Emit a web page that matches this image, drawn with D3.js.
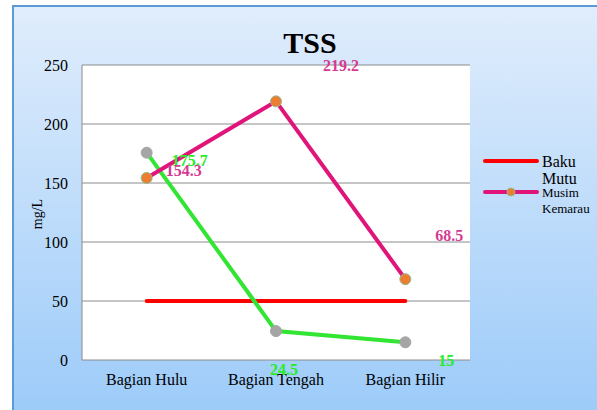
<!DOCTYPE html>
<html>
<head>
<meta charset="utf-8">
<script src="https://cdn.jsdelivr.net/npm/d3@7"></script>
<style>
  body { margin: 0; background: #fff; }
  svg { display: block; }
</style>
</head>
<body>
<div id="chart"></div>
<script>
var categories = ["Bagian Hulu", "Bagian Tengah", "Bagian Hilir"];
var bakuMutu = [50, 50, 50];
var musimKemarau = [154.3, 219.2, 68.5];
var musimHujan = [175.7, 24.5, 15];
var yTicks = [0, 50, 100, 150, 200, 250];

var serif = "'Liberation Serif', 'Times New Roman', serif";
var width = 597, height = 410;
var plot = { left: 82, top: 65, right: 470, bottom: 360 };

var svg = d3.select("#chart").append("svg")
  .attr("width", width)
  .attr("height", height)
  .style("font-family", serif);

var defs = svg.append("defs");
var grad = defs.append("linearGradient")
  .attr("id", "bg")
  .attr("x1", 0).attr("y1", 0).attr("x2", 0).attr("y2", 1);
grad.append("stop").attr("offset", "0%").attr("stop-color", "#e0edfc");
grad.append("stop").attr("offset", "100%").attr("stop-color", "#9ccbf9");

// chart frame
svg.append("rect")
  .attr("x", 13).attr("y", 6)
  .attr("width", width).attr("height", height)
  .attr("fill", "url(#bg)")
  .attr("stroke", "#5b9bd5")
  .attr("stroke-width", 2);

svg.append("rect")
  .attr("x", plot.left).attr("y", plot.top)
  .attr("width", plot.right - plot.left)
  .attr("height", plot.bottom - plot.top)
  .attr("fill", "#fff");

var x = d3.scaleBand()
  .domain(categories)
  .range([plot.left, plot.right]);

var y = d3.scaleLinear()
  .domain([0, 250])
  .range([plot.bottom, plot.top]);

// gridlines
svg.append("g")
  .selectAll("line")
  .data(yTicks)
  .enter().append("line")
  .attr("x1", plot.left).attr("x2", plot.right)
  .attr("y1", function(d) { return y(d); })
  .attr("y2", function(d) { return y(d); })
  .attr("stroke", "#8c8c8c")
  .attr("stroke-width", 1);

svg.append("line")
  .attr("x1", plot.left).attr("x2", plot.left)
  .attr("y1", plot.top).attr("y2", plot.bottom)
  .attr("stroke", "#8c8c8c");

var yAxis = d3.axisLeft(y).tickValues(yTicks).tickSize(0).tickPadding(14);
var gy = svg.append("g")
  .attr("transform", "translate(" + plot.left + ",0)")
  .call(yAxis);
gy.attr("font-family", null).attr("font-size", null);
gy.select(".domain").remove();
gy.selectAll("text")
  .style("font-family", serif)
  .style("font-size", "16px")
  .attr("fill", "#000");

var xAxis = d3.axisBottom(x).tickSize(0).tickPadding(14);
var gx = svg.append("g")
  .attr("transform", "translate(0," + plot.bottom + ")")
  .call(xAxis);
gx.attr("font-family", null).attr("font-size", null);
gx.select(".domain").remove();
gx.selectAll("text")
  .style("font-family", serif)
  .style("font-size", "16px")
  .attr("fill", "#000");

svg.append("text")
  .attr("transform", "translate(42,214) rotate(-90)")
  .attr("text-anchor", "middle")
  .style("font-size", "14px")
  .text("mg/L");

svg.append("text")
  .attr("x", 310).attr("y", 53)
  .attr("text-anchor", "middle")
  .style("font-size", "30px")
  .style("font-weight", "bold")
  .text("TSS");

var line = d3.line()
  .x(function(d, i) { return x(categories[i]) + x.bandwidth() / 2; })
  .y(function(d) { return y(d); });

svg.append("path")
  .datum(bakuMutu)
  .attr("d", line)
  .attr("fill", "none")
  .attr("stroke", "#ff0000")
  .attr("stroke-width", 4)
  .attr("stroke-linecap", "round");

svg.append("path")
  .datum(musimHujan)
  .attr("d", line)
  .attr("fill", "none")
  .attr("stroke", "#33e533")
  .attr("stroke-width", 4);

svg.append("path")
  .datum(musimKemarau)
  .attr("d", line)
  .attr("fill", "none")
  .attr("stroke", "#e0157a")
  .attr("stroke-width", 4);

function markers(data, fill, edge) {
  svg.append("g")
    .selectAll("circle")
    .data(data)
    .enter().append("circle")
    .attr("cx", function(d, i) { return x(categories[i]) + x.bandwidth() / 2; })
    .attr("cy", function(d) { return y(d); })
    .attr("r", 5.5)
    .attr("fill", fill)
    .attr("stroke", edge)
    .attr("stroke-width", 1);
}
markers(musimHujan, "#a5a5a5", "#a5a5a5");
markers(musimKemarau, "#ed7d31", "#8fbc8f");

// data labels
var hujanOffsets = [[25, 13], [-6, 44], [33, 24]];
var kemarauOffsets = [[19, -2], [47, -30], [30, -38]];

svg.append("g")
  .selectAll("text")
  .data(musimHujan)
  .enter().append("text")
  .attr("x", function(d, i) { return x(categories[i]) + x.bandwidth() / 2 + hujanOffsets[i][0]; })
  .attr("y", function(d, i) { return y(d) + hujanOffsets[i][1]; })
  .style("font-size", "16px")
  .style("font-weight", "bold")
  .attr("fill", "#22ee22")
  .text(function(d) { return d; });

svg.append("g")
  .selectAll("text")
  .data(musimKemarau)
  .enter().append("text")
  .attr("x", function(d, i) { return x(categories[i]) + x.bandwidth() / 2 + kemarauOffsets[i][0]; })
  .attr("y", function(d, i) { return y(d) + kemarauOffsets[i][1]; })
  .style("font-size", "16px")
  .style("font-weight", "bold")
  .attr("fill", "#d63a92")
  .text(function(d) { return d; });

// legend
var legend = svg.append("g");
legend.append("line")
  .attr("x1", 485).attr("x2", 537)
  .attr("y1", 161).attr("y2", 161)
  .attr("stroke", "#ff0000")
  .attr("stroke-width", 4)
  .attr("stroke-linecap", "round");
legend.append("text").attr("x", 542).attr("y", 167).style("font-size", "16px").text("Baku");
legend.append("text").attr("x", 542).attr("y", 184).style("font-size", "16px").text("Mutu");

legend.append("line")
  .attr("x1", 485).attr("x2", 537)
  .attr("y1", 192).attr("y2", 192)
  .attr("stroke", "#e0157a")
  .attr("stroke-width", 4)
  .attr("stroke-linecap", "round");
legend.append("circle")
  .attr("cx", 511).attr("cy", 192).attr("r", 4)
  .attr("fill", "#ed7d31").attr("stroke", "#8fbc8f");
legend.append("text").attr("x", 542).attr("y", 197).style("font-size", "13px").text("Musim");
legend.append("text").attr("x", 542).attr("y", 213).style("font-size", "13px").text("Kemarau");
</script>
</body>
</html>
